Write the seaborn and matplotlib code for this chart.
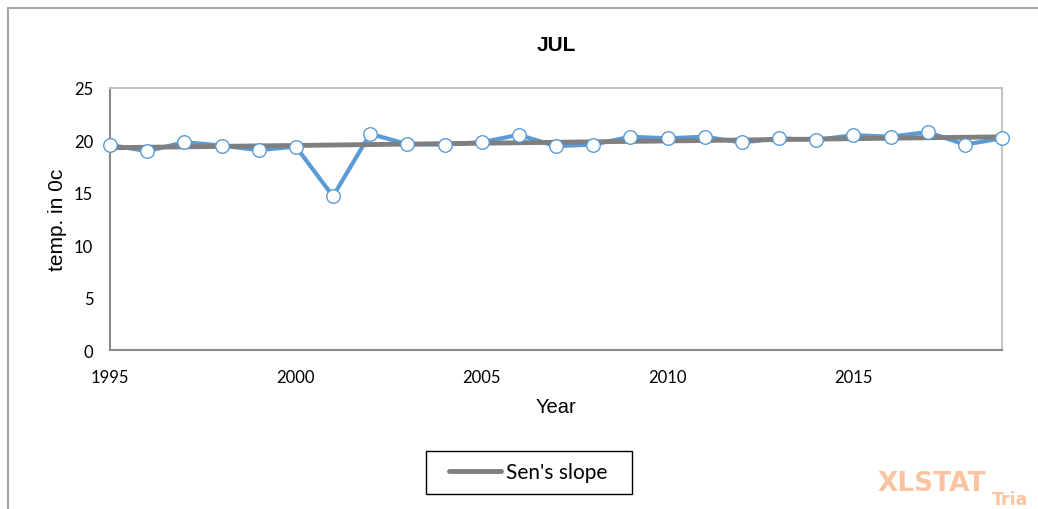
import numpy as np
import pandas as pd
import matplotlib
matplotlib.use("Agg")
import matplotlib.pyplot as plt
from matplotlib.lines import Line2D
from matplotlib.patches import Rectangle
import seaborn as sns

# July mean temperature per year
years = [1995, 1996, 1997, 1998, 1999, 2000, 2001, 2002, 2003, 2004, 2005, 2006,
         2007, 2008, 2009, 2010, 2011, 2012, 2013, 2014, 2015, 2016, 2017, 2018, 2019]
temps = [19.57, 18.97, 19.83, 19.51, 19.07, 19.41, 14.67, 20.63, 19.64, 19.60, 19.83, 20.53,
         19.45, 19.60, 20.35, 20.20, 20.35, 19.80, 20.20, 20.05, 20.50, 20.35, 20.80, 19.60, 20.20]

# Sen's slope trend line end points
sen_years = [1995, 2019]
sen_values = [19.30, 20.34]

x_ticks = [1995, 2000, 2005, 2010, 2015]
y_ticks = [0, 5, 10, 15, 20, 25]

df = pd.DataFrame({"Year": years, "temp": temps})
sen = pd.DataFrame({"Year": sen_years, "temp": sen_values})

sns.set_style("white")
plt.rcParams['font.family'] = ['Lato', 'DejaVu Sans']
plt.rcParams['text.color'] = 'black'
plt.rcParams['axes.labelcolor'] = 'black'
plt.rcParams['xtick.labelcolor'] = 'black'
plt.rcParams['ytick.labelcolor'] = 'black'
arial = ['Liberation Sans', 'DejaVu Sans']

blue = "#5B9BD5"
grey = "#7F7F7F"

W, H = 1038, 510
fig = plt.figure(figsize=(W / 100, H / 100), dpi=100)
ax = fig.add_axes([110 / W, 1 - 351 / H, (1002 - 110) / W, (351 - 89) / H])

sns.lineplot(data=df, x="Year", y="temp", ax=ax, color=blue, linewidth=3, zorder=2)
sns.lineplot(data=sen, x="Year", y="temp", ax=ax, color=grey, linewidth=3.5, zorder=3,
             label="Sen's slope")
sns.scatterplot(data=df, x="Year", y="temp", ax=ax, s=95, color="white", edgecolor=blue,
                linewidth=1, zorder=4, clip_on=False, legend=False)

ax.set_xlim(1995, 2019)
ax.set_ylim(0, 25)
ax.set_xticks(x_ticks)
ax.set_yticks(y_ticks)
ax.tick_params(axis="both", direction="inout", length=10, width=1, color="#898989",
               labelsize=12, labelcolor="black")
ax.tick_params(axis="x", pad=9)
ax.tick_params(axis="y", pad=7)

for side in ["left", "bottom"]:
    ax.spines[side].set_color("#898989")
    ax.spines[side].set_linewidth(1.5)
for side in ["top", "right"]:
    ax.spines[side].set_color("#C4C4C4")
    ax.spines[side].set_linewidth(1.5)

ax.set_title("JUL", fontsize=15, fontweight="bold", pad=27, family=arial, color="black")
ax.set_xlabel("Year", fontsize=14.5, family=arial, color="black")
ax.set_ylabel("temp. in 0c", fontsize=15, family=arial, color="black")
ax.xaxis.set_label_coords(0.5, -(398 - 351) / (351 - 89))
ax.yaxis.set_label_coords(-(110 - 67) / (1002 - 110), 0.5)

ax.legend_.remove()
fig.legend(handles=[Line2D([0], [0], color=grey, linewidth=3.5)], labels=["Sen's slope"],
           loc="center left", bbox_to_anchor=(449 / W, 1 - 473.5 / H), frameon=False,
           fontsize=15, handlelength=2.5, handletextpad=0.25, borderpad=0,
           borderaxespad=0, labelcolor="black")
fig.add_artist(Rectangle((426 / W, 1 - 495 / H), (632 - 426) / W, (495 - 452) / H,
                         transform=fig.transFigure, fill=False, edgecolor="black", linewidth=1))

# outer chart frame
fig.add_artist(Line2D([8 / W, 1], [1 - 9 / H, 1 - 9 / H], color="#A6A6A6", linewidth=1.5))
fig.add_artist(Line2D([8 / W, 8 / W], [0, 1 - 9 / H], color="#A6A6A6", linewidth=1.5))

# watermark
fig.text(878 / W, 1 - 484 / H, "XLSTAT", color="#FBC4A0", fontsize=19, fontweight="bold",
         family=["DejaVu Sans"], va="center", ha="left")
fig.text(992 / W, 1 - 509 / H, "Tria", color="#FBC4A0", fontsize=12.5, fontweight="bold",
         family=["DejaVu Sans"], va="bottom", ha="left")

fig.savefig("out.png", dpi=100)
